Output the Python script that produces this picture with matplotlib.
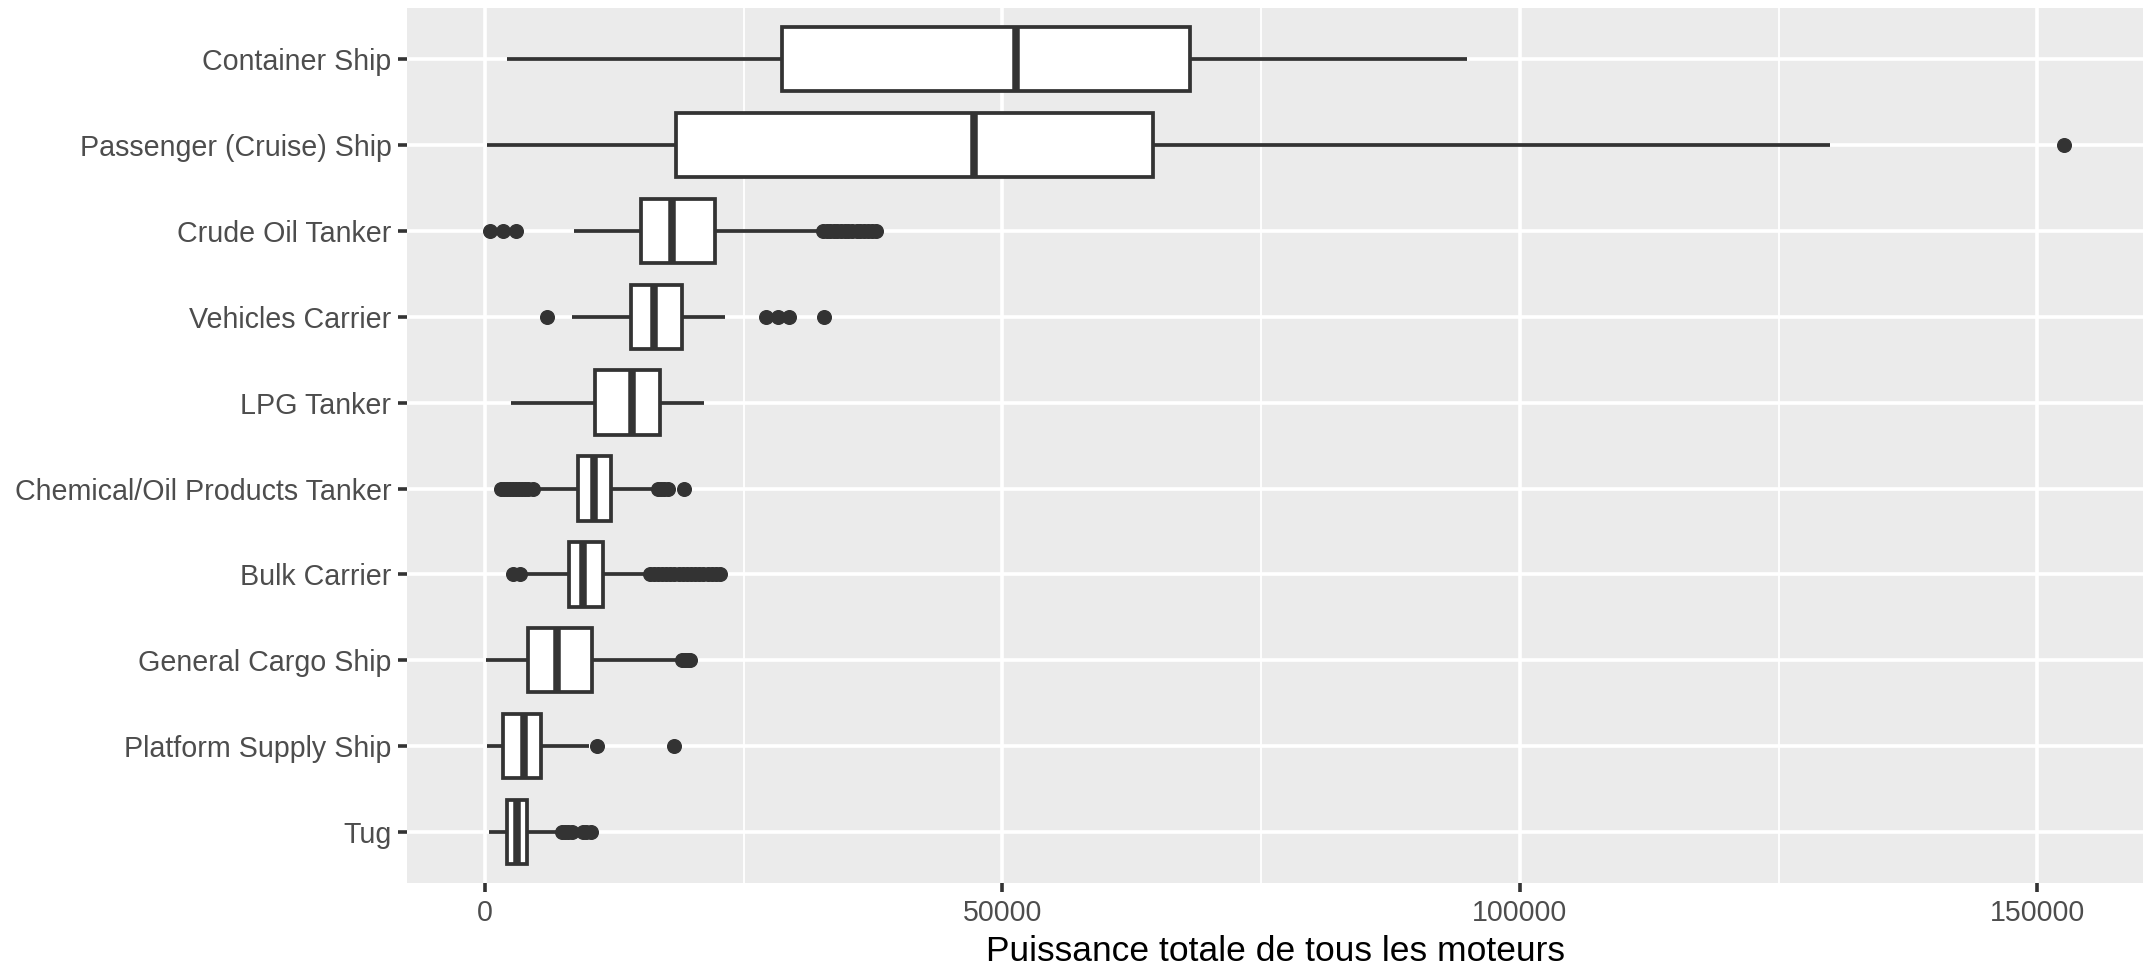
import matplotlib
matplotlib.use("Agg")
import matplotlib.pyplot as plt

# categories, top to bottom
ship_types = [
    "Container Ship",
    "Passenger (Cruise) Ship",
    "Crude Oil Tanker",
    "Vehicles Carrier",
    "LPG Tanker",
    "Chemical/Oil Products Tanker",
    "Bulk Carrier",
    "General Cargo Ship",
    "Platform Supply Ship",
    "Tug",
]

# box statistics (kW)
whisker_low = [2100, 200, 8600, 8400, 2500, 4800, 3700, 100, 200, 400]
q1 = [28700, 18500, 15100, 14100, 10600, 9000, 8100, 4200, 1700, 2100]
median = [51300, 47300, 18100, 16300, 14200, 10500, 9500, 7000, 3800, 3100]
q3 = [68100, 64600, 22200, 19000, 16900, 12200, 11400, 10300, 5400, 4100]
whisker_high = [94900, 130000, 32200, 23200, 21200, 16400, 15500, 18700, 10000, 6900]

outliers = [
    [],
    [152600],
    [500, 1700, 3000, 32700, 33000, 33300, 33700, 34000, 34400, 34800,
     35100, 35500, 35900, 36200, 36600, 37000, 37400, 37800],
    [5950, 27200, 28300, 29400, 32800],
    [],
    [1500, 1800, 2100, 2400, 2700, 3000, 3300, 3600, 3900, 4200, 4600,
     16700, 17000, 17300, 17700, 19200],
    [2700, 3400, 15900, 16300, 16700, 17100, 17500, 17900, 18300, 18700,
     19100, 19500, 19900, 20300, 20700, 21100, 21500, 21900, 22300, 22700],
    [19000, 19300, 19600, 19800],
    [10800, 18300],
    [7400, 7700, 8000, 8400, 9500, 9800, 10200],
]

x_ticks = [0, 50000, 100000, 150000]
x_minor = [25000, 75000, 125000]

INK = "#333333"

fig = plt.figure(figsize=(21.43, 9.65), dpi=100)
ax = fig.add_axes([0.19, 0.0845, 0.81, 0.9075])
ax.set_facecolor("#EBEBEB")

n = len(ship_types)
positions = [n - i for i in range(n)]
stats = []
for i, name in enumerate(ship_types):
    stats.append({
        "label": name,
        "whislo": whisker_low[i], "q1": q1[i], "med": median[i],
        "q3": q3[i], "whishi": whisker_high[i], "fliers": outliers[i],
    })

ax.bxp(stats, positions=positions, orientation="horizontal", widths=0.75,
       showcaps=False, patch_artist=True,
       boxprops=dict(facecolor="white", edgecolor=INK, linewidth=2.7),
       whiskerprops=dict(color=INK, linewidth=2.7, solid_capstyle="butt"),
       medianprops=dict(color=INK, linewidth=5.4, solid_capstyle="butt"),
       flierprops=dict(marker="o", markerfacecolor=INK,
                       markeredgecolor=INK, markersize=9.8, linestyle="none"),
       zorder=3)

# ggplot-like 5% expansion
lo = min(min(whisker_low), min(min(o) for o in outliers if o))
hi = max(max(whisker_high), max(max(o) for o in outliers if o))
pad = (hi - lo) * 0.05
ax.set_xlim(lo - pad, hi + pad)
ax.set_ylim(0.4, n + 0.6)

ax.set_xticks(x_ticks)
ax.set_xticklabels([str(t) for t in x_ticks])
ax.set_xticks(x_minor, minor=True)
ax.set_yticks(positions)
ax.set_yticklabels(ship_types)

ax.grid(which="major", color="white", linewidth=2.6, zorder=0)
ax.grid(which="minor", axis="x", color="white", linewidth=1.3, zorder=0)
ax.set_axisbelow(True)

for s in ax.spines.values():
    s.set_visible(False)

ax.tick_params(which="major", length=6.3, width=2.6, color=INK,
               labelsize=20.6, labelcolor="#4D4D4D", pad=5)
ax.tick_params(which="minor", length=0)
for lab in ax.get_xticklabels() + ax.get_yticklabels():
    lab.set_fontfamily("Liberation Sans")

ax.set_xlabel("Puissance totale de tous les moteurs", fontsize=25.5,
              fontfamily="Liberation Sans", color="black", labelpad=6)

fig.savefig("out.png", dpi=100)
